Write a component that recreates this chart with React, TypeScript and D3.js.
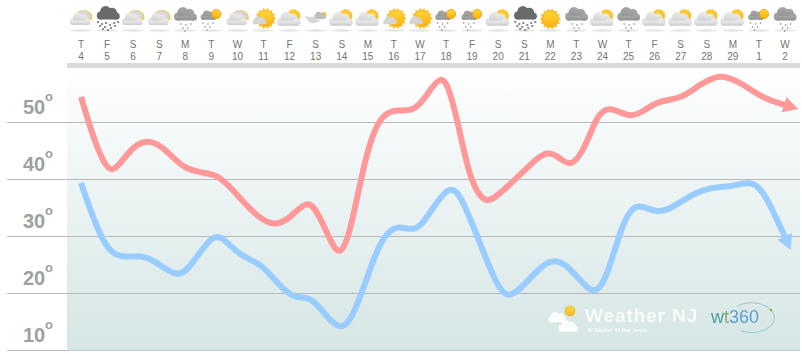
import React from "react";
import * as d3 from "d3";

const weekdays = ["T","F","S","S","M","T","W","T","F","S","S","M","T","W","T","F","S","S","M","T","W","T","F","S","S","M","T","W"];
const dates = ["4","5","6","7","8","9","10","11","12","13","14","15","16","17","18","19","20","21","22","23","24","25","26","27","28","29","1","2"];
const icons = ["partly","snow","partly","partly","rain","sunrain","partly","sunny","cloudsun","wind","cloudsun","cloudsun","sunny","sunny","sunrain","sunrain","cloudsun","snow","sun","rain","cloudsun","rain","cloudsun","cloudsun","cloudsun","cloudsun","sunrain","rain"];
const tempTicks = [50, 40, 30, 20, 10];

const highDays = [0,.46,.85,1.15,1.5,1.95,2.53,3.15,3.6,3.99,4.56,5.22,5.83,6.6,7.36,8.02,8.71,9.17,9.55,9.93,10.32,10.78,11.16,11.58,12.12,12.73,13.2,13.81,14.15,14.54,14.92,15.5,16.07,16.84,17.49,17.91,18.3,18.8,19.33,19.79,20.25,21.06,21.6,22.17,22.98,23.71,24.51,25.35,26.12,27.0];
const highTemps = [54.4,47.4,43,41.2,42.6,45.5,47.0,45.6,43.4,41.9,41.1,40.9,38.1,34.0,31.6,33.0,36.8,33.3,29.3,26.2,30.5,41.1,47.7,51.4,52.2,51.8,54.2,58.6,55.6,48.1,39.8,35.3,37.5,40.7,43.7,44.8,44.0,41.9,45.4,51.2,52.9,50.6,52.0,53.8,54.0,56.5,58.6,56.8,54.2,53.0];
const lowDays = [0,.46,.92,1.5,2.26,2.92,3.76,4.3,5.1,5.6,6.18,6.87,7.52,8.13,8.75,9.17,9.97,10.51,11.16,11.58,12.12,12.81,13.27,14.15,14.65,15.3,15.96,16.38,16.95,17.91,18.57,19.22,19.72,20.18,20.68,21.25,22.17,23.17,24.09,24.97,25.74,26.24,27.0];
const lowTemps = [39.3,33.3,28.1,26.0,26.8,25.4,22.4,25.3,30.8,28.9,26.3,25.3,21.8,19.0,19.4,17.4,12.8,16.5,25.3,29.8,32.1,30.6,33.2,39.6,36.3,28.8,21.1,19.0,21.1,26.2,25.3,21.8,19.6,22.8,31.1,36.6,33.2,36.7,38.6,38.6,39.8,37.5,29.8];

const W = 802, H = 354;
const x = d3.scaleLinear().domain([0, 27]).range([81, 785]);
const y = d3.scaleLinear().domain([50, 10]).range([122, 350]);
const line = d3.line<[number, number]>().x(d => x(d[0])).y(d => y(d[1])).curve(d3.curveBasis);

function Sun({ cx, cy, r }: { cx: number; cy: number; r: number }) {
  const n = 14;
  const pts = d3.range(n * 2).map(i => {
    const a = (i * Math.PI) / n;
    const R = i % 2 ? r * 1.1 : r * 1.38;
    return [cx + R * Math.cos(a), cy + R * Math.sin(a)].join(",");
  }).join(" ");
  return <g>
    <polygon points={pts} fill="#fbc640" />
    <circle cx={cx} cy={cy} r={r} fill="url(#sunG)" stroke="#f5a800" strokeWidth={0.5} />
  </g>;
}

function Cloud({ cx, cy, s, fill }: { cx: number; cy: number; s: number; fill: string }) {
  return <g transform={`translate(${cx},${cy}) scale(${s})`} fill={fill}>
    <circle cx={-9} cy={2} r={5} />
    <circle cx={-3} cy={-3} r={7} />
    <circle cx={5} cy={-1.5} r={6.2} />
    <circle cx={10} cy={2.5} r={4.5} />
    <rect x={-13} y={1} width={27} height={6} rx={3} />
  </g>;
}

function Drops({ cx, cy, color, dense }: { cx: number; cy: number; color: string; dense?: boolean }) {
  const offs = dense
    ? [[-10,0],[-6,2],[-2,1],[2,3],[6,1],[10,0],[-8,4],[-3,5],[3,6],[7,4],[-5,7],[0,8]]
    : [[-5,0],[0,1],[5,0],[-3,4],[2,4],[-1,7]];
  return <g fill={color}>{offs.map((o, i) =>
    <rect key={i} x={cx + o[0]} y={cy + o[1]} width={dense ? 2 : 1.2} height={dense ? 2 : 2} />)}</g>;
}

function Icon({ kind, cx }: { kind: string; cx: number }) {
  const cy = 17;
  let body: React.ReactNode = null;
  if (kind === "partly") body = <g>
    <path d={`M${cx - 6},${cy - 1} a9,8 0 0 1 13,-5 a8,8 0 0 1 4,9 z`} fill="#fbc230" />
    <Cloud cx={cx + 3} cy={cy - 2} s={0.5} fill="#d8d8d8" />
    <Cloud cx={cx - 1} cy={cy + 3} s={0.72} fill="url(#cloudL)" />
  </g>;
  if (kind === "snow") body = <g>
    <Cloud cx={cx + 1} cy={cy - 3} s={0.8} fill="#6b6b6b" />
    <Drops cx={cx} cy={cy + 4} color="#8a8a8a" dense />
  </g>;
  if (kind === "rain") body = <g>
    <Cloud cx={cx} cy={cy - 2} s={0.8} fill="url(#cloudG)" />
    <Drops cx={cx} cy={cy + 6} color="#a5a5a5" />
  </g>;
  if (kind === "sunrain") body = <g>
    <Cloud cx={cx - 3} cy={cy - 1} s={0.55} fill="url(#cloudG)" />
    <circle cx={cx + 5} cy={cy - 3} r={4.6} fill="url(#sunG)" stroke="#e8a000" strokeWidth={0.8} />
    <Drops cx={cx - 4} cy={cy + 5} color="#a8a8a8" />
  </g>;
  if (kind === "sunny") body = <g>
    <Sun cx={cx + 2} cy={cy + 1.5} r={7.8} />
    <Cloud cx={cx - 4} cy={cy + 4} s={0.48} fill="#d4d4d4" />
  </g>;
  if (kind === "cloudsun") body = <g>
    <Sun cx={cx + 4} cy={cy - 1} r={5.4} />
    <Cloud cx={cx - 1} cy={cy + 3} s={0.82} fill="url(#cloudL)" />
  </g>;
  if (kind === "sun") body = <Sun cx={cx} cy={cy + 2} r={7.8} />;
  if (kind === "wind") body = <g>
    <circle cx={cx + 8} cy={cy - 2} r={3} fill="#fbc640" />
    <Cloud cx={cx + 4} cy={cy - 1} s={0.42} fill="#bdbdbd" />
    <path d={`M${cx - 11},${cy - 1} q8,2 11,0 q-1,5 6,4 q-5,4 -10,3 q-4,-1 -7,-7 z`} fill="#d8d8d8" />
  </g>;
  return <g>
    <ellipse cx={cx} cy={30.5} rx={11} ry={1.2} fill="#e4e4e4" />
    {body}
  </g>;
}

export default function App() {
  const highPts = highDays.map((d, i) => [d, highTemps[i]] as [number, number]);
  const lowPts = lowDays.map((d, i) => [d, lowTemps[i]] as [number, number]);
  const font = "'Liberation Sans', Arial, sans-serif";
  return (
    <svg width={W} height={H} style={{ position: "absolute", left: 0, top: 0, display: "block" }}>
      <defs>
        <linearGradient id="bg" x1="0" y1="0" x2="0" y2="1">
          <stop offset="0" stopColor="#ffffff" />
          <stop offset="1" stopColor="#d5e6e5" />
        </linearGradient>
        <linearGradient id="sunG" x1="0" y1="0" x2="0" y2="1">
          <stop offset="0" stopColor="#ffd83a" />
          <stop offset="1" stopColor="#fbb010" />
        </linearGradient>
        <linearGradient id="cloudL" x1="0" y1="0" x2="0" y2="1">
          <stop offset="0" stopColor="#ececec" />
          <stop offset="1" stopColor="#cbcbcb" />
        </linearGradient>
        <linearGradient id="cloudG" x1="0" y1="0" x2="0" y2="1">
          <stop offset="0" stopColor="#a8a8a8" />
          <stop offset="1" stopColor="#8f8f8f" />
        </linearGradient>
        <marker id="arrHigh" markerUnits="userSpaceOnUse" markerWidth="18" markerHeight="18" refX="1" refY="9" orient="auto">
          <path d="M0,1 L15,9 L0,17 Z" fill="#ff9999" />
        </marker>
        <marker id="arrLow" markerUnits="userSpaceOnUse" markerWidth="18" markerHeight="18" refX="1" refY="9" orient="auto">
          <path d="M0,1 L15,9 L0,17 Z" fill="#99ccff" />
        </marker>
        <filter id="soft"><feGaussianBlur stdDeviation="0.35" /></filter>
      </defs>

      <rect x={67} y={68} width={733} height={282} fill="url(#bg)" />
      <rect x={67} y={63} width={733} height={5} fill="#dadada" />

      <g filter="url(#soft)">
        {icons.map((k, i) => <Icon key={i} kind={k} cx={x(i)} />)}
      </g>

      <g fontFamily={font} fontSize={10} fill="#737373" textAnchor="middle">
        {weekdays.map((w, i) => <text key={i} x={x(i)} y={48}>{w}</text>)}
        {dates.map((d, i) => <text key={i} x={x(i)} y={60}>{d}</text>)}
      </g>

      {tempTicks.map(t => <g key={t}>
        <line x1={7} x2={800} y1={y(t) + 0.5} y2={y(t) + 0.5} stroke={t === 10 ? "#bcc8d6" : "#b8b8b8"} strokeWidth={1} />
        {t === 10 && <line x1={7} x2={67} y1={y(t) + 0.5} y2={y(t) + 0.5} stroke="#b8b8b8" />}
        <text x={23} y={y(t) - 8} fontFamily={font} fontWeight="bold" fontSize={20} fill="#a0a0a0">{t}</text>
        <text x={45} y={y(t) - 21} fontFamily={font} fontWeight="bold" fontSize={13} fill="#a0a0a0">o</text>
      </g>)}

      <path d={line(lowPts) ?? ""} fill="none" stroke="#99ccff" strokeWidth={6} markerEnd="url(#arrLow)" />
      <path d={line(highPts) ?? ""} fill="none" stroke="#ff9999" strokeWidth={6} markerEnd="url(#arrHigh)" />

      <g filter="url(#soft)">
        <g opacity={0.9}>
          <Sun cx={570} cy={311} r={4.5} />
          <Cloud cx={557} cy={318} s={0.62} fill="#fff" />
          <Cloud cx={568} cy={327} s={0.68} fill="#fff" />
        </g>
        <text x={585} y={322} fontFamily={font} fontWeight="bold" fontSize={19} fill="#fff" opacity={0.85} letterSpacing={0.9}>Weather NJ</text>
        <text x={587} y={331.5} fontFamily={font} fontWeight="bold" fontSize={4.6} fill="#fff" opacity={0.8}>All Weather. All New Jersey.</text>
        <text x={711} y={323} fontFamily={font} fontSize={18}>
          <tspan fill="#4f9aa0">w</tspan><tspan fill="#8aa86a">t</tspan><tspan fill="#5c9fd0">360</tspan>
        </text>
        <path d="M737,306 A23,15 0 1 1 741,331" fill="none" stroke="#9cc8d2" strokeWidth={1} />
        <circle cx={771} cy={310} r={1.3} fill="#8aa840" />
      </g>
    </svg>
  );
}
